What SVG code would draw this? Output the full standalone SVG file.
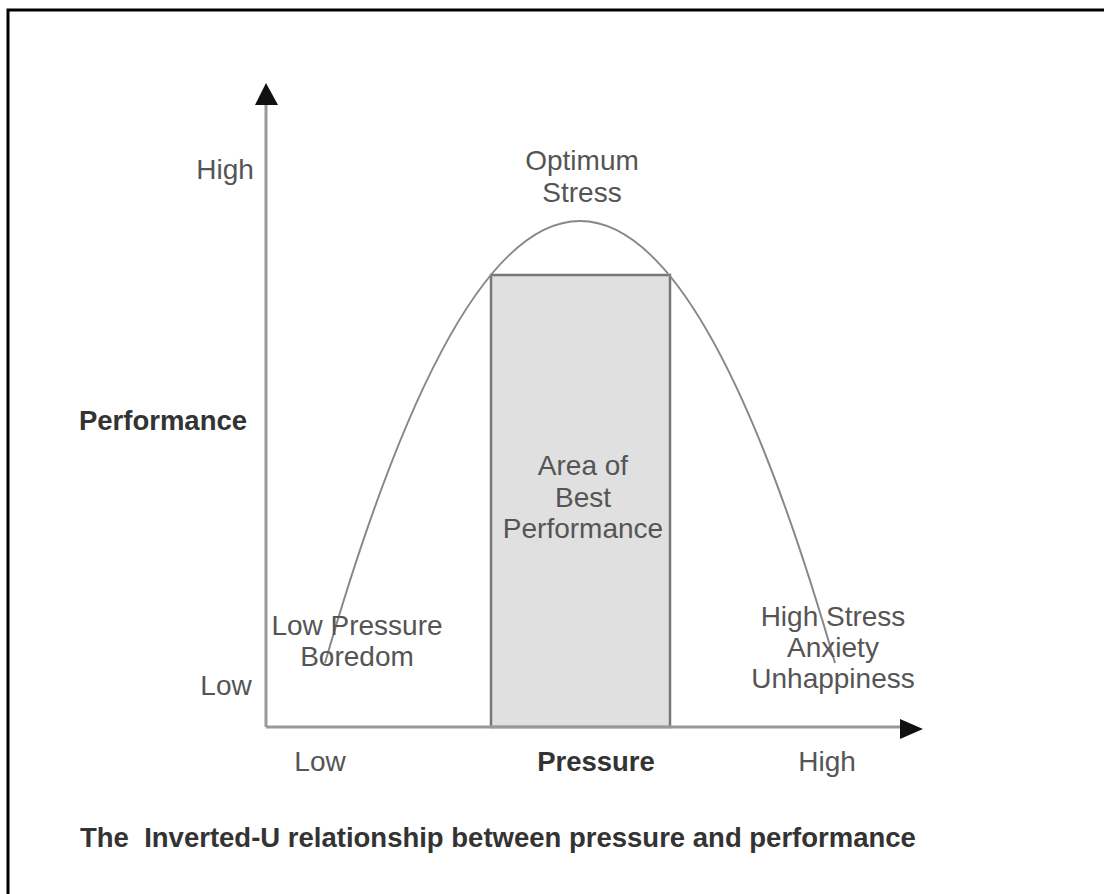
<svg xmlns="http://www.w3.org/2000/svg" width="1104" height="894" viewBox="0 0 1104 894">
<style>
.lbl{font-family:"Liberation Sans",Arial,sans-serif;font-size:28px;fill:#555;text-anchor:middle}
.bold{font-family:"Liberation Sans",Arial,sans-serif;font-size:27.5px;font-weight:bold;fill:#333;text-anchor:middle}
.axis{stroke:#999;stroke-width:3;fill:none}
</style>
<rect width="1104" height="894" fill="#fff"/>
<path d="M8,894 V10 H1104" fill="none" stroke="#000" stroke-width="3"/>
<g id="box">
<rect x="491" y="275" width="179" height="452" fill="#e0e0e0" stroke="#777" stroke-width="2.5"/>
</g>
<g id="connectors">
<path class="axis" d="M266,727 V104"/>
<path d="M266,83 L255,105 L278,105 z" fill="#111"/>
<path class="axis" d="M266,727 H902"/>
<path d="M923,729 L900,719 L900,739 z" fill="#111"/>
<path d="M325,663 Q580,-221 835,663" fill="none" stroke="#888" stroke-width="2"/>
</g>
<g id="yaxis-labels">
<text class="lbl" x="225" y="179">High</text>
<text class="lbl" x="226" y="695">Low</text>
<text class="bold" x="163" y="430">Performance</text>
</g>
<g id="optimum"><text class="lbl" x="582" y="170">Optimum</text><text class="lbl" x="582" y="202">Stress</text></g>
<g id="area"><text class="lbl" x="583" y="475">Area of</text><text class="lbl" x="583" y="507">Best</text><text class="lbl" x="583" y="538">Performance</text></g>
<g id="lowpressure"><text class="lbl" x="357" y="635">Low Pressure</text><text class="lbl" x="357" y="666">Boredom</text></g>
<g id="highstress"><text class="lbl" x="833" y="626">High Stress</text><text class="lbl" x="833" y="657">Anxiety</text><text class="lbl" x="833" y="688">Unhappiness</text></g>
<g id="xaxis-labels">
<text class="lbl" x="320" y="771">Low</text>
<text class="bold" x="596" y="771">Pressure</text>
<text class="lbl" x="827" y="771">High</text>
</g>
<text class="bold" x="80" y="847" style="text-anchor:start;font-size:27.5px" xml:space="preserve">The  Inverted-U relationship between pressure and performance</text>
</svg>
